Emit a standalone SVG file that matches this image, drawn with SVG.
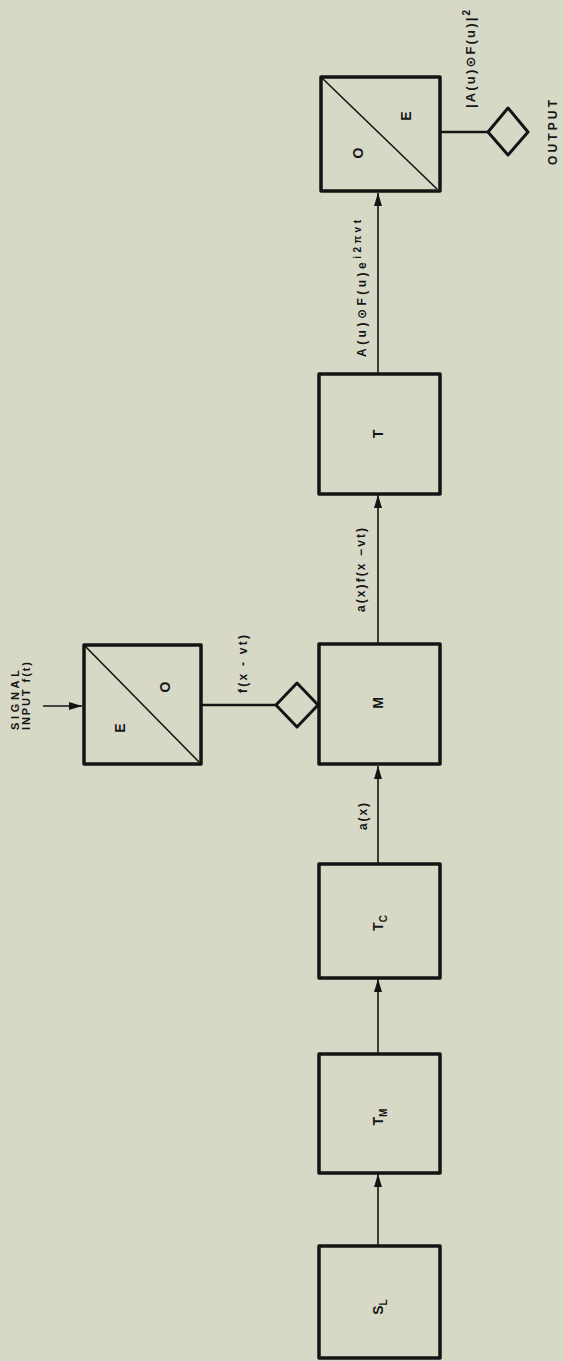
<svg xmlns="http://www.w3.org/2000/svg" width="564" height="1361" viewBox="0 0 564 1361">
<style>
.bg{fill:#d8d8c7}
.box{fill:none;stroke:#141414;stroke-width:3.5;stroke-linejoin:round}
.diag{stroke:#141414;stroke-width:1.6;fill:none}
.dia{fill:none;stroke:#141414;stroke-width:3;stroke-linejoin:round}
.ln{stroke:#141414;stroke-width:1.6;fill:none}
.lnb{stroke:#141414;stroke-width:2.6;fill:none}
.t{font-family:"Liberation Sans","DejaVu Sans",sans-serif;font-weight:bold;fill:#161616}
.nl{font-size:14px}
.lb{font-size:12px}
</style>
<defs>
<marker id="ah" viewBox="0 0 13 8" refX="13" refY="4" markerWidth="13" markerHeight="8" markerUnits="userSpaceOnUse" orient="auto">
<path d="M0,0 L13,4 L0,8 Z" fill="#141414"/>
</marker>
</defs>
<rect class="bg" x="0" y="0" width="564" height="1361"/>

<g id="connectors">
<line class="ln" x1="378" y1="1245" x2="378" y2="1174" marker-end="url(#ah)"/>
<line class="ln" x1="378" y1="1053" x2="378" y2="979" marker-end="url(#ah)"/>
<line class="ln" x1="378" y1="863" x2="378" y2="766" marker-end="url(#ah)"/>
<line class="ln" x1="378" y1="643" x2="378" y2="495" marker-end="url(#ah)"/>
<line class="ln" x1="378" y1="373" x2="378" y2="193" marker-end="url(#ah)"/>
<line class="ln" x1="43" y1="706" x2="82" y2="706" marker-end="url(#ah)"/>
<line class="lnb" x1="201" y1="705" x2="276" y2="705"/>
<line class="lnb" x1="440" y1="132" x2="488" y2="132"/>
</g>

<g id="labels">
<text class="t" font-size="13" transform="translate(474.5,108) rotate(-90)" textLength="98" lengthAdjust="spacing">|A(u)⊙F(u)|<tspan dy="-5" font-size="10">2</tspan></text>
<text class="t lb" transform="translate(366,357) rotate(-90)" textLength="137" lengthAdjust="spacing">A(u)⊙F(u)e<tspan dy="-5" font-size="10">i2πvt</tspan></text>
<text class="t lb" transform="translate(365,612) rotate(-90)" textLength="84" lengthAdjust="spacing">a(x)f(x −vt)</text>
<text class="t lb" transform="translate(367,830) rotate(-90)" textLength="27" lengthAdjust="spacing">a(x)</text>
<text class="t lb" transform="translate(247,693) rotate(-90)" textLength="58" lengthAdjust="spacing">f(x - vt)</text>
<text class="t" font-size="12" transform="translate(557,165) rotate(-90)" textLength="65" lengthAdjust="spacing">OUTPUT</text>
<text class="t" font-size="11" transform="translate(19,730) rotate(-90)" textLength="60" lengthAdjust="spacing">SIGNAL</text>
<text class="t" font-size="11" transform="translate(30,730) rotate(-90)" textLength="68" lengthAdjust="spacing">INPUT f(t)</text>
</g>

<g id="node-SL">
<rect class="box" x="319" y="1246" width="121" height="112"/>
<text class="t nl" transform="translate(383,1307) rotate(-90)" text-anchor="middle">S<tspan dy="4" font-size="10">L</tspan></text>
</g>
<g id="node-TM">
<rect class="box" x="319" y="1054" width="121" height="119"/>
<text class="t nl" transform="translate(383,1117) rotate(-90)" text-anchor="middle">T<tspan dy="4" font-size="10">M</tspan></text>
</g>
<g id="node-TC">
<rect class="box" x="319" y="864" width="121" height="114"/>
<text class="t nl" transform="translate(383,923) rotate(-90)" text-anchor="middle">T<tspan dy="4" font-size="10">C</tspan></text>
</g>
<g id="node-M">
<rect class="box" x="319" y="644" width="121" height="120"/>
<text class="t nl" transform="translate(383,703) rotate(-90)" text-anchor="middle">M</text>
</g>
<g id="node-T">
<rect class="box" x="319" y="374" width="121" height="120"/>
<text class="t nl" transform="translate(383,434) rotate(-90)" text-anchor="middle">T</text>
</g>
<g id="node-OE">
<rect class="box" x="321" y="77" width="119" height="114"/>
<line class="diag" x1="322" y1="78" x2="437" y2="189"/>
<text class="t nl" transform="translate(363,153) rotate(-90)" text-anchor="middle">O</text>
<text class="t nl" transform="translate(411,116) rotate(-90)" text-anchor="middle">E</text>
</g>
<g id="node-EO">
<rect class="box" x="84" y="645" width="117" height="119"/>
<line class="diag" x1="85" y1="646" x2="199" y2="762"/>
<text class="t nl" transform="translate(125,728) rotate(-90)" text-anchor="middle">E</text>
<text class="t nl" transform="translate(170,687) rotate(-90)" text-anchor="middle">O</text>
</g>
<g id="node-diamond-in">
<polygon class="dia" points="276,705 297,683 318,705 297,727"/>
</g>
<g id="node-diamond-out">
<polygon class="dia" points="488,132 508,108 528,132 508,155"/>
</g>
</svg>
